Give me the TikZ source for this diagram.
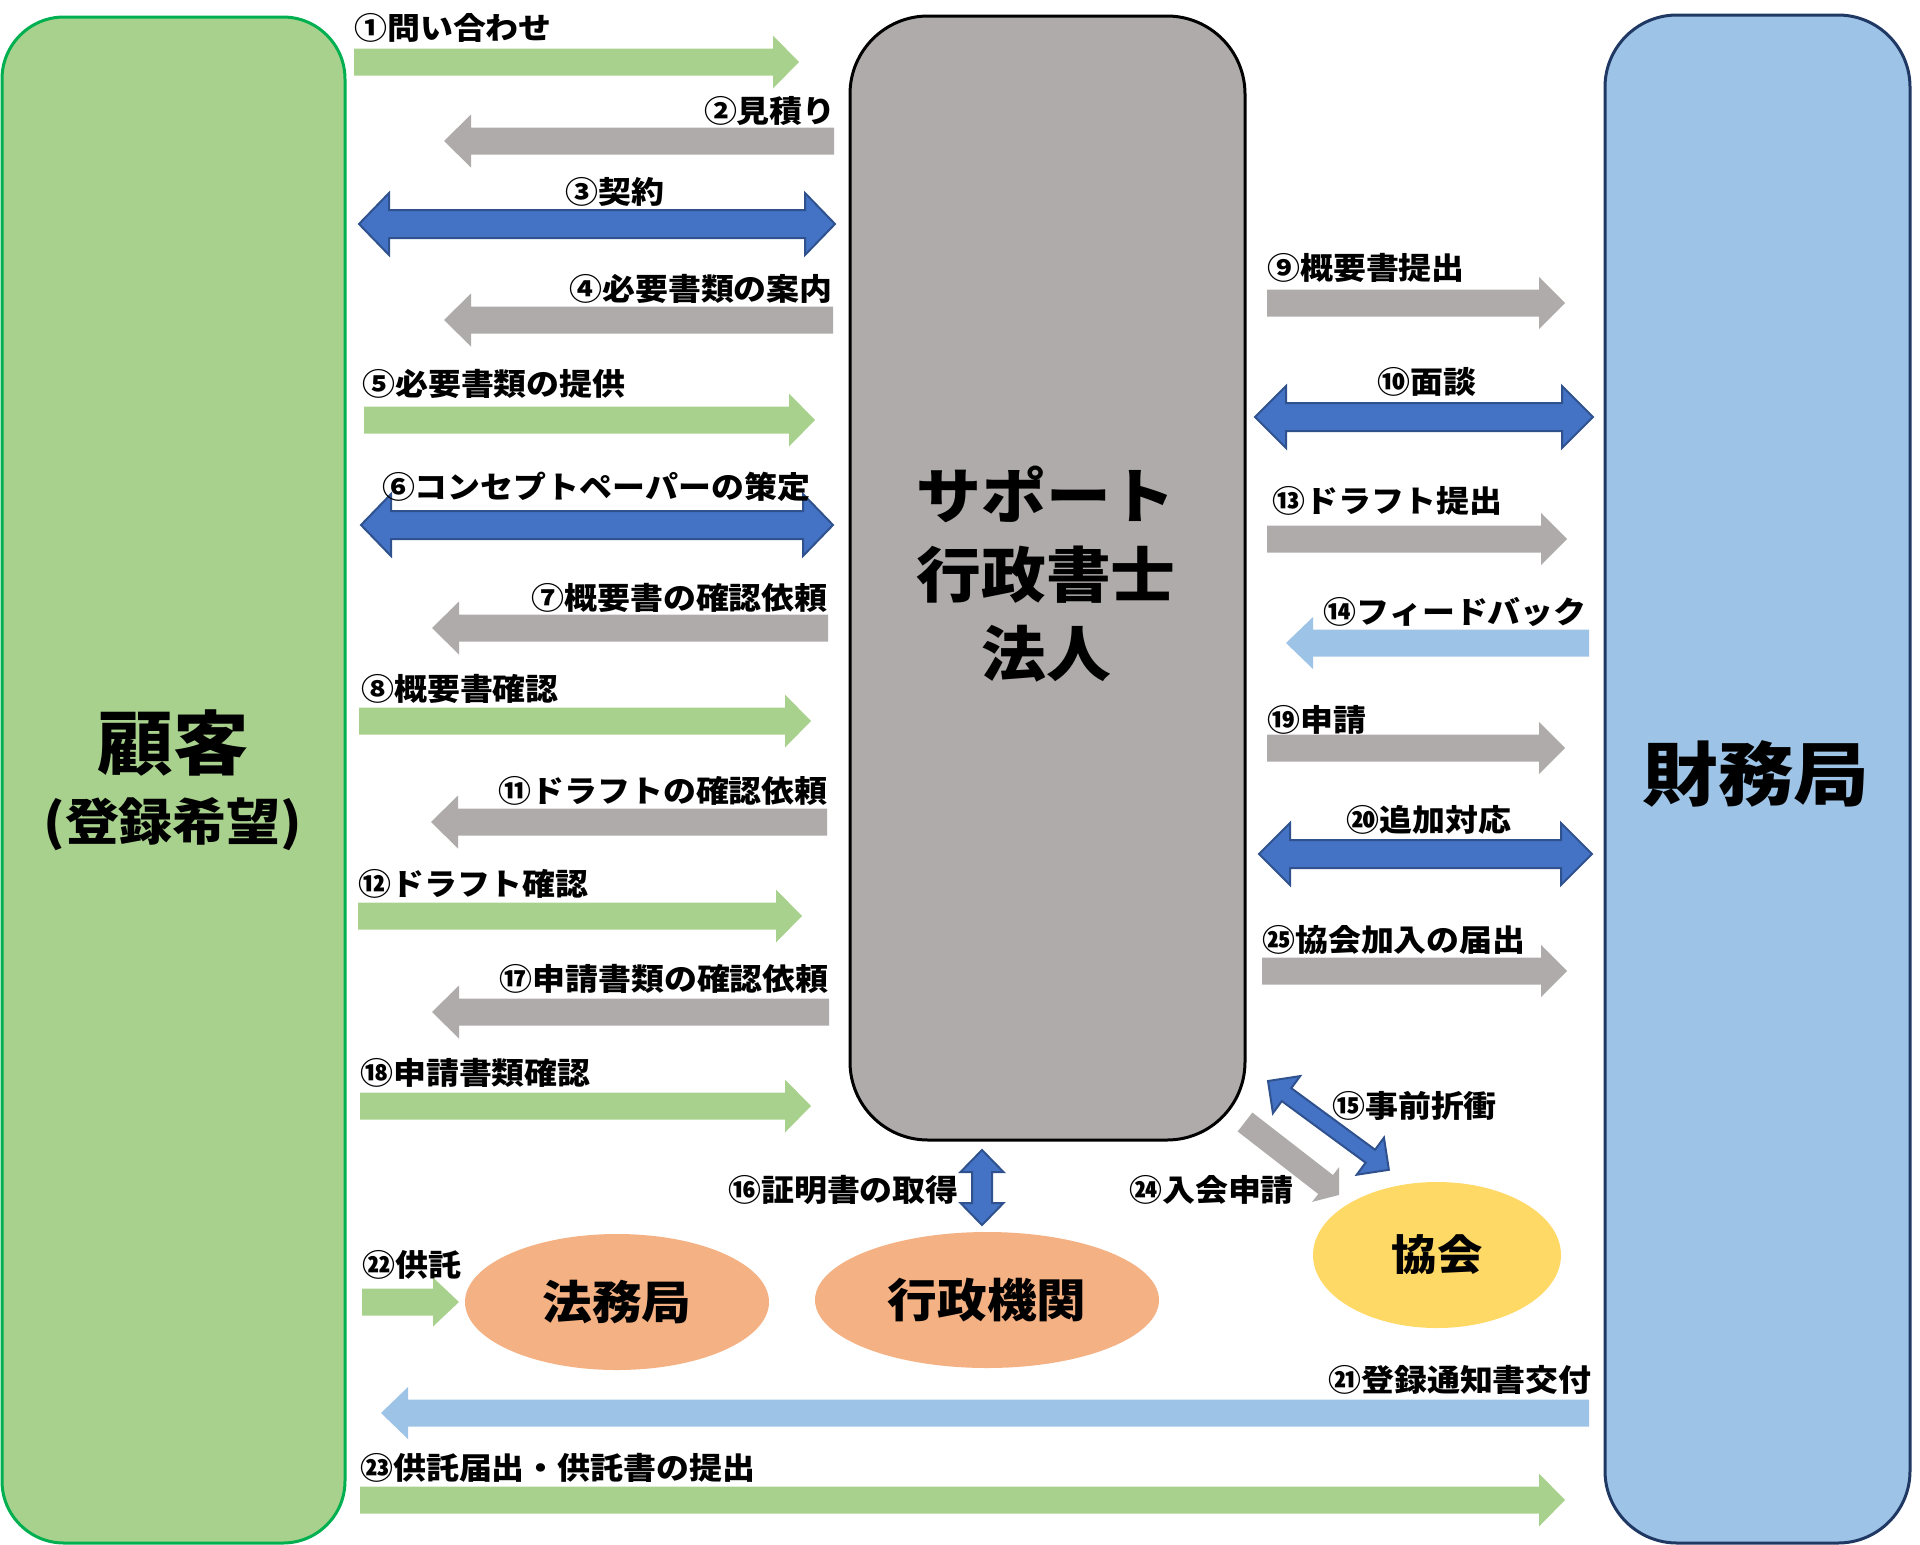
\documentclass[tikz,border=0pt]{standalone}
\usepackage{fontspec}
\setmainfont{Noto Sans CJK JP}[FakeStretch=1.08]
\usetikzlibrary{shapes.geometric}
\definecolor{cgreen}{HTML}{A9D18E}
\definecolor{cgreenline}{HTML}{00B050}
\definecolor{cgray}{HTML}{AFABAB}
\definecolor{cblue}{HTML}{4472C4}
\definecolor{cblueline}{HTML}{2F528F}
\definecolor{clblue}{HTML}{9DC3E6}
\definecolor{cnavy}{HTML}{203864}
\definecolor{corange}{HTML}{F4B183}
\definecolor{cyellow}{HTML}{FFD966}
% single block arrow: name, style, x, y, angle, length, half shaft, half head, head length
\newcommand\SArr[9]{%
  \coordinate (#1) at (#3,#4);
  \path[#2, shift={(#3,#4)}, rotate=#5] (0,-#7) -- ({#6-#9},-#7) -- ({#6-#9},-#8) -- (#6,0)
    -- ({#6-#9},#8) -- ({#6-#9},#7) -- (0,#7) -- cycle;}
% double block arrow
\newcommand\DArr[9]{%
  \coordinate (#1) at (#3,#4);
  \path[#2, shift={(#3,#4)}, rotate=#5] (0,0) -- (#9,-#8) -- (#9,-#7) -- ({#6-#9},-#7) -- ({#6-#9},-#8)
    -- (#6,0) -- ({#6-#9},#8) -- ({#6-#9},#7) -- (#9,#7) -- (#9,#8) -- cycle;}
\begin{document}
\begin{tikzpicture}[x=1pt,y=-1pt,
  lbl/.style={font=\bfseries\fontsize{30.5}{36}\selectfont, inner sep=0pt},
  bigtxt/.style={font=\bfseries\fontsize{#1}{#1}\selectfont, inner sep=0pt, align=center},
  garr/.style={fill=cgreen},
  yarr/.style={fill=cgray},
  barr/.style={fill=cblue, draw=cblueline, line width=2pt, line join=miter},
  larr/.style={fill=clblue},
  ell/.style={ellipse, inner sep=0pt, font=\bfseries\fontsize{46}{46}\selectfont}]
\useasboundingbox (0,0) rectangle (1920,1545);
% main boxes
\node[draw=cgreenline, fill=cgreen, line width=3pt, rounded corners=62pt,
      minimum width=343pt, minimum height=1526pt, inner sep=0pt] (kokyaku) at (173.5,780) {};
\node[draw=black, fill=cgray, line width=3pt, rounded corners=78pt,
      minimum width=395pt, minimum height=1124pt, inner sep=0pt] (support) at (1047.5,578) {};
\node[draw=cnavy, fill=clblue, line width=3pt, rounded corners=72pt,
      minimum width=305pt, minimum height=1528pt, inner sep=0pt] (zaimu) at (1757.5,779) {};
\node[bigtxt=70] (tk1) at (173,743) {顧客};
\node[bigtxt=50] (tk2) at (173,824) {(登録希望)};
\node[bigtxt=60] (ts1) at (1046,494) {サポート};
\node[bigtxt=60] (ts2) at (1046,575) {行政書士};
\node[bigtxt=60] (ts3) at (1046,654) {法人};
\node[bigtxt=70] (tz) at (1756,774) {財務局};
% ellipses
\node[ell, fill=corange, minimum width=304pt, minimum height=136pt] (houmu) at (617,1302) {法務局};
\node[ell, fill=corange, minimum width=344pt, minimum height=136pt] (gyosei) at (987,1300) {行政機関};
\node[ell, fill=cyellow, minimum width=248pt, minimum height=146pt,
      font=\bfseries\fontsize{42}{42}\selectfont] (kyokai) at (1437,1255) {協会};
% left column arrows
\SArr{a1}{garr}{354}{62}{0}{445}{13.5}{26.5}{26}
\SArr{a2}{yarr}{834}{141}{180}{390}{13.5}{26.5}{27}
\DArr{a3}{barr}{359}{224}{0}{476}{14}{31}{30}
\SArr{a4}{yarr}{833}{320}{180}{389}{13.5}{26.5}{27}
\SArr{a5}{garr}{364}{420}{0}{451}{13.5}{26.5}{26}
\DArr{a6}{barr}{361}{525}{0}{472}{14}{31}{30}
\SArr{a7}{yarr}{828}{628}{180}{396}{13.5}{26.5}{27}
\SArr{a8}{garr}{359}{721}{0}{452}{13.5}{26.5}{26}
\SArr{a11}{yarr}{827}{822}{180}{396}{13.5}{26.5}{27}
\SArr{a12}{garr}{358}{916}{0}{444}{13.5}{26.5}{26}
\SArr{a17}{yarr}{829}{1012}{180}{397}{13.5}{26.5}{27}
\SArr{a18}{garr}{360}{1106}{0}{451}{13.5}{26.5}{26}
% right column arrows
\SArr{a9}{yarr}{1267}{303}{0}{298}{13.5}{26}{26}
\DArr{a10}{barr}{1255}{417}{0}{338}{14}{31}{31}
\SArr{a13}{yarr}{1267}{539}{0}{300}{13.5}{26}{26}
\SArr{a14}{larr}{1589}{643}{180}{303}{13.5}{26}{27}
\SArr{a19}{yarr}{1267}{748}{0}{298}{13.5}{26}{26}
\DArr{a20}{barr}{1259}{854}{0}{333}{14}{31}{31}
\SArr{a25}{yarr}{1262}{971}{0}{305}{13.5}{26}{26}
% diagonal / vertical arrows
\SArr{a24}{yarr}{1245}{1122}{-37.8}{119}{12}{22}{17}
\DArr{a15}{barr}{1268}{1081}{-36.3}{150}{8}{23}{23}
\DArr{a16}{barr}{982}{1150}{-90}{75}{10}{21.5}{22}
% bottom arrows
\SArr{a22}{garr}{362}{1302}{0}{97}{13.5}{24.5}{26}
\SArr{a21}{larr}{1589}{1413}{180}{1208}{13.5}{26}{27}
\SArr{a23}{garr}{360}{1500}{0}{1205}{13.5}{26.5}{26}
% labels
\node[lbl,anchor=west] (l1) at (354,28) {①問い合わせ};
\node[lbl,anchor=east] (l2) at (836,111) {②見積り};
\node[lbl] (l3) at (615,192) {③契約};
\node[lbl,anchor=east] (l4) at (833,289) {④必要書類の案内};
\node[lbl,anchor=west] (l5) at (362,384) {⑤必要書類の提供};
\node[lbl] (l6) at (596,487) {⑥コンセプトペーパーの策定};
\node[lbl,anchor=east] (l7) at (828,598) {⑦概要書の確認依頼};
\node[lbl,anchor=west] (l8) at (361,689) {⑧概要書確認};
\node[lbl,anchor=west] (l9) at (1267,268) {⑨概要書提出};
\node[lbl] (l10) at (1427,382) {⑩面談};
\node[lbl,anchor=east] (l11) at (828,791) {⑪ドラフトの確認依頼};
\node[lbl,anchor=west] (l12) at (358,884) {⑫ドラフト確認};
\node[lbl,anchor=west] (l13) at (1272,501) {⑬ドラフト提出};
\node[lbl,anchor=east] (l14) at (1587,612) {⑭フィードバック};
\node[lbl,anchor=west] (l15) at (1332,1106) {⑮事前折衝};
\node[lbl,anchor=east] (l16) at (959,1190) {⑯証明書の取得};
\node[lbl,anchor=east] (l17) at (829,979) {⑰申請書類の確認依頼};
\node[lbl,anchor=west] (l18) at (360,1073) {⑱申請書類確認};
\node[lbl,anchor=west] (l19) at (1267,720) {⑲申請};
\node[lbl] (l20) at (1429,820) {⑳追加対応};
\node[lbl,anchor=east] (l21) at (1592,1380) {㉑登録通知書交付};
\node[lbl,anchor=west] (l22) at (362,1265) {㉒供託};
\node[lbl,anchor=west] (l23) at (360,1468) {㉓供託届出・供託書の提出};
\node[lbl,anchor=west] (l24) at (1129,1190) {㉔入会申請};
\node[lbl,anchor=west] (l25) at (1262,940) {㉕協会加入の届出};
\end{tikzpicture}
\end{document}
